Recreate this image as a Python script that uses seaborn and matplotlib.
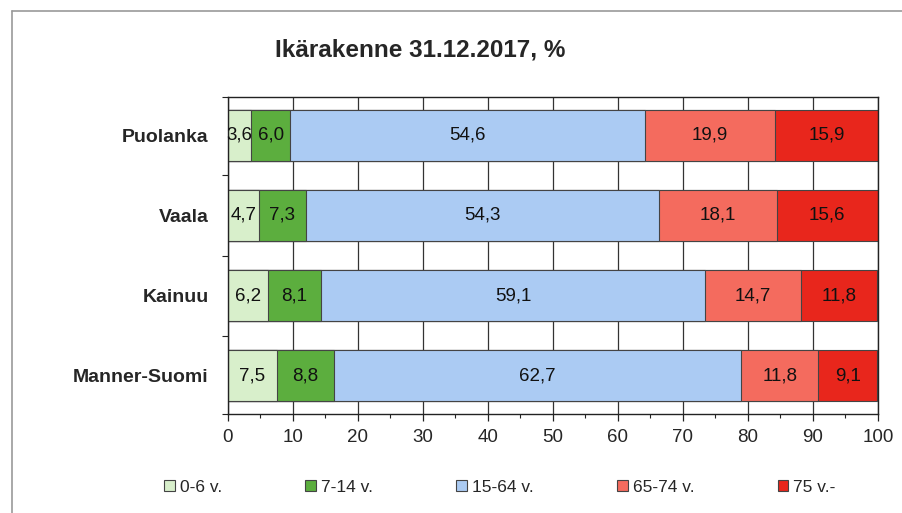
import numpy as np
import pandas as pd
import seaborn as sns
import matplotlib.pyplot as plt
from matplotlib.patches import Patch
from matplotlib.lines import Line2D
from matplotlib.ticker import MultipleLocator, FixedLocator

# data
areas = ['Puolanka', 'Vaala', 'Kainuu', 'Manner-Suomi']
groups = ['0-6 v.', '7-14 v.', '15-64 v.', '65-74 v.', '75 v.-']
v0_6 = [3.6, 4.7, 6.2, 7.5]
v7_14 = [6.0, 7.3, 8.1, 8.8]
v15_64 = [54.6, 54.3, 59.1, 62.7]
v65_74 = [19.9, 18.1, 14.7, 11.8]
v75 = [15.9, 15.6, 11.8, 9.1]
colors = ['#d8efcb', '#5cae3e', '#abcbf3', '#f46b5e', '#e8261c']

sns.set_theme(style='white')
plt.rcParams['font.family'] = ['Liberation Sans', 'DejaVu Sans']

df = pd.DataFrame({'alue': areas, '0-6 v.': v0_6, '7-14 v.': v7_14,
                   '15-64 v.': v15_64, '65-74 v.': v65_74, '75 v.-': v75})
cum = df[groups].cumsum(axis=1)

fig = plt.figure(figsize=(9.03, 5.13), dpi=100)
ax = fig.add_axes([228 / 903, 99 / 513, 650 / 903, 317 / 513])

# pinotut palkit: piirretään kumulatiiviset summat suurimmasta pienimpään
for g, c in reversed(list(zip(groups, colors))):
    sns.barplot(x=cum[g], y=df['alue'], color=c, orient='h', width=0.64,
                edgecolor='#444444', linewidth=0.8, saturation=1, ax=ax)

# arvot palkkien keskelle
for i in range(len(areas)):
    left = 0
    for g in groups:
        val = df[g][i]
        ax.text(left + val / 2, i, f'{val:.1f}'.replace('.', ','),
                ha='center', va='center', fontsize=13.5, color='#111111')
        left += val

ax.set_xlim(0, 100)
ax.set_ylim(3.48, -0.48)
ax.xaxis.set_major_locator(MultipleLocator(10))
ax.xaxis.set_minor_locator(MultipleLocator(5))
ax.yaxis.set_minor_locator(FixedLocator([-0.48, 0.5, 1.5, 2.5, 3.48]))
ax.set_axisbelow(True)
ax.grid(axis='x', which='major', color='#333333', linewidth=0.9)
ax.tick_params(axis='x', which='major', bottom=True, length=5, width=0.9,
               color='#222222', labelsize=13.5, pad=6)
ax.tick_params(axis='x', which='minor', bottom=True, length=3, width=0.8, color='#222222')
ax.tick_params(axis='y', which='major', left=False, labelsize=14, pad=8)
ax.tick_params(axis='y', which='minor', left=True, length=4, width=0.8, color='#222222')
for lab in ax.get_yticklabels():
    lab.set_fontweight('bold')
ax.set_xlabel('')
ax.set_ylabel('')
for s in ax.spines.values():
    s.set_color('#222222')
    s.set_linewidth(1.0)

fig.text(420 / 903, 1 - 50 / 513, 'Ikärakenne 31.12.2017, %', ha='center', va='center',
         fontsize=17.5, fontweight='bold')

handles = [Patch(facecolor=c, edgecolor='#444444', linewidth=0.8) for c in colors]
fig.legend(handles, groups, loc='center', bbox_to_anchor=(500 / 903, 1 - 487 / 513),
           ncol=5, frameon=False, fontsize=12.5, handlelength=0.6, handleheight=0.6,
           handletextpad=0.3, columnspacing=4.8)

# kehys kuvan ympärille
fig.add_artist(Line2D([12 / 903, 1.0], [1 - 11 / 513, 1 - 11 / 513], color='#999999', linewidth=1.2))
fig.add_artist(Line2D([12 / 903, 12 / 903], [1 - 11 / 513, 0], color='#999999', linewidth=1.2))

fig.savefig('out.png', dpi=100)
